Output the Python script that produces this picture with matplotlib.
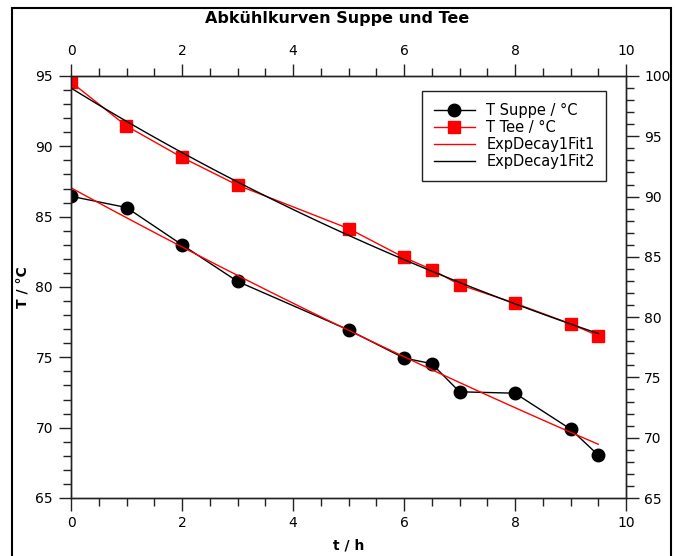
import numpy as np
import matplotlib
matplotlib.use("Agg")
import matplotlib.pyplot as plt
from matplotlib.patches import Rectangle

# data
t = [0, 1, 2, 3, 5, 6, 6.5, 7, 8, 9, 9.5]
T_suppe = [86.45, 85.65, 83.0, 80.4, 76.95, 74.95, 74.55, 72.55, 72.45, 69.9, 68.05]
T_tee = [99.5, 95.85, 93.25, 90.95, 87.35, 84.95, 83.95, 82.7, 81.15, 79.45, 78.45]

title = 'Abkühlkurven Suppe und Tee'
xlabel = 't / h'
ylabel = 'T / °C'
labels = ['T Suppe / °C', 'T Tee / °C', 'ExpDecay1Fit1', 'ExpDecay1Fit2']

t = np.array(t)
T_suppe = np.array(T_suppe)
T_tee = np.array(T_tee)


# ExpDecay1 fit: y = y0 + A*exp(-x/t1), y0 found by a simple scan
def expfit(x, y):
    best = None
    for y0 in np.linspace(0, y.min() - 1, 500):
        b, a = np.polyfit(x, np.log(y - y0), 1)
        sse = np.sum((y0 + np.exp(a + b * x) - y) ** 2)
        if best is None or sse < best[0]:
            best = (sse, y0, a, b)
    _, y0, a, b = best
    xf = np.linspace(x.min(), x.max(), 60)
    return xf, y0 + np.exp(a + b * xf)


tf1, fit1 = expfit(t, T_suppe)
tf2, fit2 = expfit(t, T_tee)

plt.rcParams['font.family'] = 'DejaVu Sans'
plt.rcParams['font.size'] = 10

fig = plt.figure(figsize=(6.75, 5.56), dpi=100)
ax = fig.add_axes([71/675, 1-498/556, (626-71)/675, (498-76)/556])
ax2 = ax.twinx()

l1, = ax.plot(t, T_suppe, '-', color='black', lw=1.0, marker='o', ms=9)
l3, = ax.plot(tf1, fit1, '-', color='red', lw=1.0)
l2, = ax2.plot(t, T_tee, '-', color='red', lw=1.0, marker='s', ms=8.5)
l4, = ax2.plot(tf2, fit2, '-', color='black', lw=1.0)

ax.set_xlim(0, 10)
ax.set_ylim(65, 95)
ax2.set_ylim(65, 100)
ax.set_xticks(np.arange(0, 11, 2))
ax.set_xticks(np.arange(0, 10.01, 0.5), minor=True)
ax.set_yticks(np.arange(65, 96, 5))
ax.set_yticks(np.arange(65, 96, 1), minor=True)
ax2.set_yticks(np.arange(65, 101, 5))
ax2.set_yticks(np.arange(65, 101, 1), minor=True)

ax.tick_params(which='both', direction='out', top=True, labeltop=True,
               width=1.0, color='#222222')
ax.tick_params(which='major', length=9, pad=4)
ax.tick_params(which='minor', length=5.5)
ax2.tick_params(which='both', direction='out', width=1.0, color='#222222')
ax2.tick_params(which='major', length=9, pad=4)
ax2.tick_params(which='minor', length=5.5)

for a in (ax, ax2):
    for s in a.spines.values():
        s.set_linewidth(1.0)
        s.set_color('#222222')

ax.set_xlabel(xlabel, fontweight='bold', labelpad=6)
ax.set_ylabel(ylabel, fontweight='bold', labelpad=4)
fig.text(0.5, 1-18/556, title, ha='center', va='center', fontweight='bold', fontsize=11.5)

leg = ax2.legend([l1, l2, l3, l4], labels, loc='upper left',
                 bbox_to_anchor=(422/675, 1-91/556), bbox_transform=fig.transFigure,
                 borderaxespad=0, fancybox=False, framealpha=1, edgecolor='#222222',
                 handlelength=2.8, handletextpad=0.8, borderpad=0.8,
                 labelspacing=0.15, fontsize=10.5)
leg.get_frame().set_linewidth(1.0)

fig.patches.append(Rectangle((12/675, -0.05), (671-12)/675, 1.05-8/556,
                             transform=fig.transFigure, fill=False,
                             edgecolor='black', lw=1.5))

fig.savefig('out.png', dpi=100)
